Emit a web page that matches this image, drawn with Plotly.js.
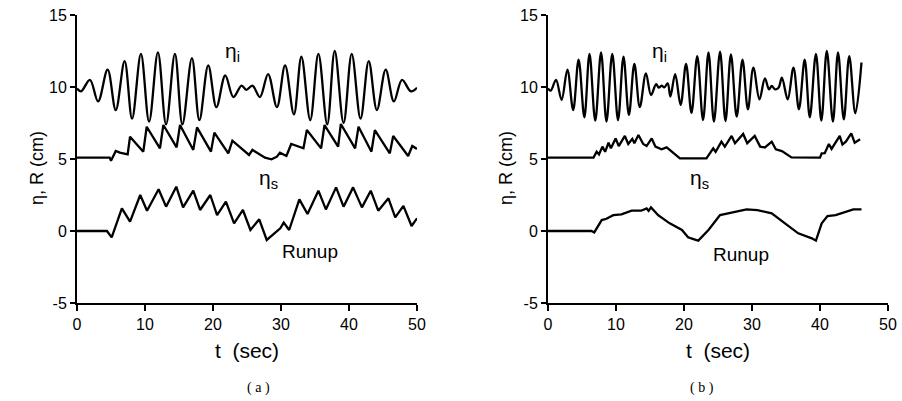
<!DOCTYPE html>
<html>
<head>
<meta charset="utf-8">
<script src="https://cdn.plot.ly/plotly-3.0.1.min.js"></script>
<style>html,body{margin:0;padding:0;background:#fff;}#chart{width:902px;height:401px;}</style>
</head>
<body>
<div id="chart"></div>
<script>
// ---- Panel (a) ----
const tEtaIA = [0,0.6,1.9,3.1,4.5,5.7,7.0,8.1,9.4,10.6,11.9,13.1,14.4,15.5,16.9,18.0,19.3,20.5,21.8,23.0,24.2,24.9,25.8,26.9,28.1,29.4,30.6,31.9,33.0,34.3,35.5,36.8,37.9,39.2,40.4,41.7,42.9,44.1,45.4,46.6,47.8,49.1,50.0];
const etaIA  = [9.9,9.7,10.5,9.0,11.2,8.4,11.8,7.8,12.3,7.6,12.4,7.4,12.3,7.4,12.0,7.7,11.5,8.6,10.8,9.3,10.1,9.8,10.1,9.3,10.9,8.6,11.5,8.1,12.1,7.7,12.3,7.4,12.5,7.5,12.3,7.8,11.8,8.4,11.2,9.0,10.5,9.7,9.95];

const tEtaSA = [0,4.8,5.0,5.7,6.3,7.45,7.8,9.75,10.25,12.2,12.7,14.65,15.15,17.1,17.65,19.7,20.2,22.25,22.85,25.3,25.8,27.65,28.6,29.4,29.85,30.8,31.5,33.3,33.8,35.9,36.4,38.4,38.8,40.9,41.4,43.3,43.8,46.0,46.5,48.7,49.3,50];
const etaSA  = [5.1,5.1,4.88,5.56,5.44,5.32,6.55,5.51,7.24,5.74,7.36,5.81,7.36,5.63,7.2,5.51,6.83,5.39,6.27,5.28,5.63,5.09,4.98,5.16,5.44,5.21,6.04,5.74,7.01,5.74,7.36,5.86,7.43,5.74,7.24,5.51,7.01,5.39,6.6,5.21,5.9,5.7];

const tRunA = [0,4.4,5.1,6.6,7.8,9.3,10.3,12.0,13.1,14.6,15.6,17.1,18.1,19.6,20.6,21.9,23.1,24.4,25.5,26.8,27.9,29.1,29.9,30.4,31.2,32.7,33.9,35.5,36.6,38.1,39.2,40.6,41.9,43.2,44.3,45.8,46.8,48.0,49.2,50];
const runA  = [0,0,-0.44,1.57,0.65,2.5,1.41,2.9,1.69,3.08,1.64,2.8,1.46,2.5,1.11,2.04,0.53,1.46,0.07,0.81,-0.62,-0.16,0.19,0.58,0.07,2.2,1.18,2.8,1.5,3.03,1.69,3.03,1.64,2.8,1.41,2.27,0.95,1.74,0.35,0.88];

// ---- Panel (b) ----
const tEtaIB = [0,0.4,1.18,2.0,2.85,3.7,4.5,5.35,6.1,6.95,7.8,8.6,9.45,10.3,11.1,11.9,12.7,13.5,14.4,15.15,15.9,16.3,16.7,17.1,17.6,18.0,18.7,19.5,20.3,21.1,21.95,22.8,23.6,24.4,25.3,26.1,26.9,27.75,28.6,29.4,30.2,31.1,31.9,32.5,32.9,33.4,33.9,34.4,35.25,36.1,36.9,37.75,38.5,39.4,40.2,41.0,41.9,42.65,43.5,44.3,45.2,46.1];
const etaIB  = [9.9,9.75,10.5,9.1,11.2,8.4,11.9,7.9,12.3,7.66,12.4,7.6,12.3,7.7,12.1,8.06,11.6,8.6,10.95,9.44,10.2,9.95,10.1,9.97,10.25,9.33,10.9,8.75,11.6,8.2,12.15,7.7,12.4,7.6,12.45,7.64,12.27,7.94,11.9,8.45,11.35,9.14,10.6,9.84,10.07,9.84,9.95,10.65,9.14,11.35,8.45,11.9,7.9,12.3,7.66,12.5,7.6,12.4,7.75,12.15,8.17,11.7];

const tEtaSB = [0,6.7,7.15,7.5,8.0,8.4,8.9,9.25,9.95,10.4,11.3,11.8,12.4,12.7,13.3,14.0,14.5,15.25,15.8,16.7,17.45,18.2,19.4,23.3,23.8,24.3,24.65,25.5,26.0,27.0,27.5,27.9,28.7,29.3,29.6,30.4,31.2,31.9,32.9,33.5,34.4,35.8,40.0,40.25,40.7,41.3,41.7,42.9,43.3,43.8,44.6,45.1,45.9];
const etaSB  = [5.1,5.1,5.5,5.32,5.86,5.5,6.13,5.74,6.43,5.9,6.6,6.04,6.4,6.1,6.67,6.04,5.9,6.43,5.86,5.67,5.81,5.51,5.05,5.05,5.39,5.74,5.5,6.2,5.85,6.6,6.1,6.3,6.74,6.1,6.25,6.6,5.86,5.8,6.2,5.67,5.55,5.11,5.1,5.39,5.4,6.04,5.7,6.6,6.0,6.2,6.78,6.13,6.37];

const tRunB = [0,6.4,6.8,7.9,8.6,9.6,10.8,12.3,13.7,14.5,14.8,15.15,16.2,17.9,19.7,20.6,21.5,22.1,23.6,25.3,27.0,29.2,30.8,32.9,34.85,36.8,38.8,39.4,40.25,41.1,42.3,43.7,44.9,46.1];
const runB  = [0,0,-0.1,0.76,0.85,1.1,1.15,1.41,1.41,1.57,1.4,1.64,1.1,0.53,0.07,-0.44,-0.58,-0.67,0.07,1.11,1.27,1.5,1.45,1.23,0.53,-0.16,-0.51,-0.67,0.53,1.04,1.1,1.34,1.5,1.5];

const xTicks = [0,10,20,30,40,50];
const yTicks = [-5,0,5,10,15];
const xTitle = 't  (sec)';
const yTitle = 'η, R (cm)';

const FONT = 'Arial, "Liberation Sans", Helvetica, sans-serif';
const SERIF = '"Liberation Serif", "Times New Roman", serif';
const lineStyle = {color:'#000', width:2.3};

function tr(x, y, xa, ya, spline) {
  return {x:x, y:y, xaxis:xa, yaxis:ya, type:'scatter', mode:'lines',
    line: Object.assign({}, lineStyle, spline ? {shape:'spline', smoothing:1} : {}),
    showlegend:false, hoverinfo:'skip'};
}

const data = [
  tr(tEtaIA, etaIA, 'x', 'y', true),
  tr(tEtaSA, etaSA, 'x', 'y', false),
  tr(tRunA, runA, 'x', 'y', false),
  tr(tEtaIB, etaIB, 'x2', 'y2', true),
  tr(tEtaSB, etaSB, 'x2', 'y2', false),
  tr(tRunB, runB, 'x2', 'y2', false)
];

function xAxis(domain, anchor) {
  return {domain:domain, anchor:anchor, range:[0,50], tickvals:xTicks, ticktext:xTicks.map(String),
    showline:true, linecolor:'#000', linewidth:2, ticks:'outside', ticklen:6, tickwidth:2, tickcolor:'#000',
    showgrid:false, zeroline:false, tickfont:{family:FONT, size:16, color:'#000'},
    title:{text:xTitle, font:{family:FONT, size:21, color:'#000'}, standoff:11}};
}
function yAxis(anchor) {
  return {domain:[0,1], anchor:anchor, range:[-5,15], tickvals:yTicks, ticktext:yTicks.map(String),
    showline:true, linecolor:'#000', linewidth:2, ticks:'outside', ticklen:5, tickwidth:2, tickcolor:'#000',
    showgrid:false, zeroline:false, tickfont:{family:FONT, size:16, color:'#000'}};
}

const etaFont = {family:FONT, size:21, color:'#000'};
const runFont = {family:FONT, size:19, color:'#000'};
const yTitleFont = {family:FONT, size:18, color:'#000'};
const capFont = {family:SERIF, size:14, color:'#000'};
const layout = {
  width:902, height:401,
  margin:{l:0, r:0, t:15, b:98},
  paper_bgcolor:'#fff', plot_bgcolor:'#fff',
  xaxis: xAxis([77/902, 417/902], 'y'),
  yaxis: yAxis('x'),
  xaxis2: xAxis([548/902, 888/902], 'y2'),
  yaxis2: yAxis('x2'),
  annotations: [
    {xref:'paper', yref:'paper', x:37/902, y:(303-168)/288, xanchor:'center', yanchor:'middle', textangle:-90, text:yTitle, showarrow:false, font:yTitleFont},
    {xref:'paper', yref:'paper', x:506/902, y:(303-168)/288, xanchor:'center', yanchor:'middle', textangle:-90, text:yTitle, showarrow:false, font:yTitleFont},
    {xref:'x', yref:'y', x:22.8, y:12.4, text:'η<sub>i</sub>', showarrow:false, font:etaFont},
    {xref:'x', yref:'y', x:28.2, y:3.6, text:'η<sub>s</sub>', showarrow:false, font:etaFont},
    {xref:'x', yref:'y', x:34.3, y:-1.4, text:'Runup', showarrow:false, font:runFont},
    {xref:'x2', yref:'y2', x:16.4, y:12.4, text:'η<sub>i</sub>', showarrow:false, font:etaFont},
    {xref:'x2', yref:'y2', x:22.3, y:3.6, text:'η<sub>s</sub>', showarrow:false, font:etaFont},
    {xref:'x2', yref:'y2', x:28.4, y:-1.65, text:'Runup', showarrow:false, font:runFont},
    {xref:'paper', yref:'paper', x:245/902, y:-(388-303)/288, yanchor:'middle', text:'( a )', showarrow:false, font:capFont},
    {xref:'paper', yref:'paper', x:716/902, y:-(388-303)/288, yanchor:'middle', text:'( b )', showarrow:false, font:capFont}
  ]
};

Plotly.newPlot('chart', data, layout, {displayModeBar:false});
</script>
</body>
</html>
